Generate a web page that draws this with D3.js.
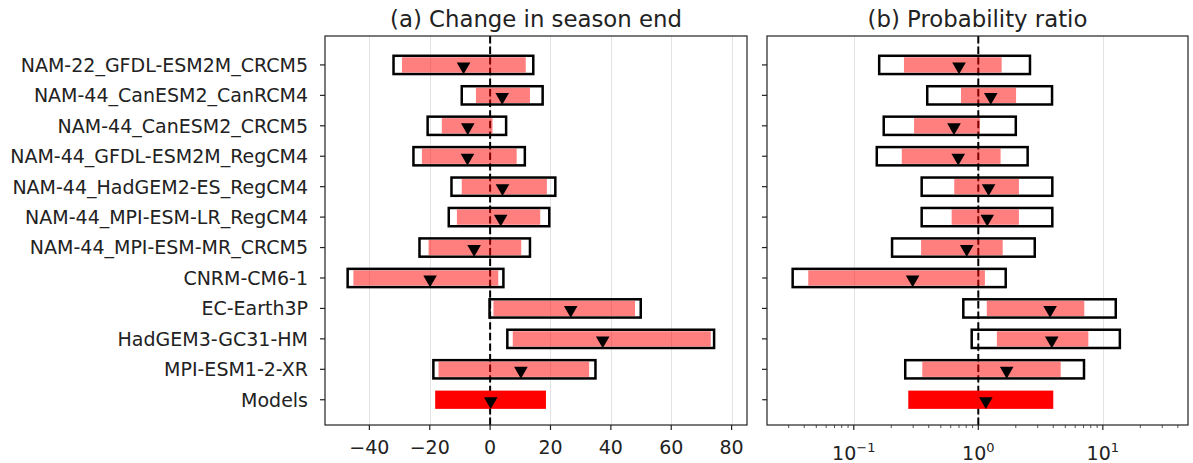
<!DOCTYPE html>
<html>
<head>
<meta charset="utf-8">
<script src="https://cdn.jsdelivr.net/npm/d3@7"></script>
<style>
	body { margin: 0; background: #fff; }
	svg { font-family: "DejaVu Sans", sans-serif; }
</style>
</head>
<body>
<svg width="1193" height="463"></svg>
<script>
(function() {
	"use strict"

	var models = ["NAM-22_GFDL-ESM2M_CRCM5", "NAM-44_CanESM2_CanRCM4", "NAM-44_CanESM2_CRCM5", "NAM-44_GFDL-ESM2M_RegCM4",
		"NAM-44_HadGEM2-ES_RegCM4", "NAM-44_MPI-ESM-LR_RegCM4", "NAM-44_MPI-ESM-MR_CRCM5", "CNRM-CM6-1",
		"EC-Earth3P", "HadGEM3-GC31-HM", "MPI-ESM1-2-XR", "Models"];

	// (a) change in season end
	var endBoxLo = [-32.0, -9.4, -20.7, -25.4, -12.8, -13.7, -23.4, -47.2, -0.2, 5.7, -18.8, null],
		endBoxHi = [14.3, 17.4, 5.3, 11.5, 21.6, 19.6, 13.2, 4.4, 49.9, 74.2, 34.9, null],
		endBarLo = [-29.2, -4.7, -16.0, -22.6, -9.4, -11.0, -20.4, -45.3, 1.1, 7.5, -17.1, -18.2],
		endBarHi = [11.8, 13.2, 0.8, 8.8, 18.8, 16.6, 10.3, 2.7, 48.0, 73.1, 32.8, 18.5],
		endBest = [-8.8, 4.0, -7.4, -7.5, 4.1, 3.5, -5.3, -19.9, 26.7, 37.3, 10.2, 0.2];

	// (b) probability ratio
	var prBoxLo = [0.160, 0.389, 0.174, 0.153, 0.351, 0.351, 0.203, 0.0323, 0.758, 0.885, 0.259, null],
		prBoxHi = [2.60, 3.91, 2.00, 2.49, 3.93, 3.93, 2.84, 1.66, 12.7, 13.7, 7.06, null],
		prBarLo = [0.253, 0.726, 0.305, 0.243, 0.641, 0.611, 0.347, 0.0431, 1.17, 1.41, 0.355, 0.274],
		prBarHi = [1.54, 2.01, 1.03, 1.51, 2.12, 2.12, 1.57, 1.13, 7.10, 7.65, 4.59, 4.00],
		prBest = [0.70, 1.26, 0.638, 0.69, 1.21, 1.18, 0.807, 0.297, 3.77, 3.89, 1.69, 1.15];

	var endTicks = [-40, -20, 0, 20, 40, 60, 80],
		prTicks = [0.1, 1, 10],
		prTickExp = ["−1", "0", "1"];

	var svg = d3.select("svg"),
		top = 36,
		bottom = 425,
		barH = 0.6,
		fontSize = 19,
		y = d3.scaleLinear().domain([-0.95, 11.83]).range([top, bottom]),
		xEnd = d3.scaleLinear().domain([-54.7, 85.1]).range([325, 747]),
		xPr = d3.scaleLog().domain([0.0201, 48.3]).range([767, 1188]),
		tri = d3.symbol().type(d3.symbolTriangle).size(80);

	function rows(lo, hi, barLo, barHi, best) {
		return models.map(function(m, i) {
			return { name : m, i : i, boxLo : lo[i], boxHi : hi[i], barLo : barLo[i], barHi : barHi[i], best : best[i], summary : lo[i] === null };
		});
	}

	function panel(x, data, ref, title) {
		var g = svg.append("g"),
			x0 = x.range()[0],
			x1 = x.range()[1],
			h = y(barH) - y(0);

		// grid
		g.selectAll(".grid")
			.data(x === xPr ? prTicks : endTicks)
			.enter()
			.append("line")
				.attr("x1", function(d) { return Math.round(x(d)) + 0.5; })
				.attr("x2", function(d) { return Math.round(x(d)) + 0.5; })
				.attr("y1", top)
				.attr("y2", bottom)
				.style("stroke", "#e3e3e3")
				.style("stroke-width", 1);

		// reference line
		g.append("line")
			.attr("x1", x(ref))
			.attr("x2", x(ref))
			.attr("y1", top)
			.attr("y2", bottom)
			.style("stroke", "#000")
			.style("stroke-width", 2)
			.style("stroke-dasharray", "7.4,3.2");

		// outer boxes
		g.selectAll(".box")
			.data(data.filter(function(d) { return !d.summary; }))
			.enter()
			.append("rect")
				.attr("x", function(d) { return x(d.boxLo); })
				.attr("y", function(d) { return y(d.i) - h / 2; })
				.attr("width", function(d) { return x(d.boxHi) - x(d.boxLo); })
				.attr("height", h)
				.style("fill", "none")
				.style("stroke", "#000")
				.style("stroke-width", 2.5);

		// red bars
		g.selectAll(".bar")
			.data(data)
			.enter()
			.append("rect")
				.attr("x", function(d) { return x(d.barLo); })
				.attr("y", function(d) { return y(d.i) - h / 2 + (d.summary ? 0 : 1.5); })
				.attr("width", function(d) { return x(d.barHi) - x(d.barLo); })
				.attr("height", function(d) { return d.summary ? h : h - 3; })
				.style("fill", "#ff0000")
				.style("fill-opacity", function(d) { return d.summary ? 1 : 0.5; });

		// best estimates
		g.selectAll(".best")
			.data(data)
			.enter()
			.append("path")
				.attr("d", tri)
				.attr("transform", function(d) { return "translate(" + x(d.best) + "," + (y(d.i) + 1.5) + ") rotate(180)"; })
				.style("fill", "#000");

		// frame
		g.append("rect")
			.attr("x", x0)
			.attr("y", top)
			.attr("width", x1 - x0)
			.attr("height", bottom - top)
			.style("fill", "none")
			.style("stroke", "#222")
			.style("stroke-width", 1.2);

		// y ticks
		g.selectAll(".ytick")
			.data(models)
			.enter()
			.append("line")
				.attr("x1", x0 - 5)
				.attr("x2", x0)
				.attr("y1", function(d, i) { return y(i); })
				.attr("y2", function(d, i) { return y(i); })
				.style("stroke", "#222")
				.style("stroke-width", 1.2);

		g.append("text")
			.attr("x", (x0 + x1) / 2)
			.attr("y", 27)
			.attr("text-anchor", "middle")
			.style("font-size", (fontSize * 1.2) + "px")
			.style("fill", "#222")
			.text(title);

		return g;
	}

	var left = panel(xEnd, rows(endBoxLo, endBoxHi, endBarLo, endBarHi, endBest), 0, "(a) Change in season end"),
		right = panel(xPr, rows(prBoxLo, prBoxHi, prBarLo, prBarHi, prBest), 1, "(b) Probability ratio");

	// category labels
	left.selectAll(".ylab")
		.data(models)
		.enter()
		.append("text")
			.attr("x", 308)
			.attr("y", function(d, i) { return y(i); })
			.attr("dy", "0.36em")
			.attr("text-anchor", "end")
			.style("font-size", fontSize + "px")
			.style("fill", "#222")
			.text(function(d) { return d; });

	// x axis (a)
	left.selectAll(".xtick")
		.data(endTicks)
		.enter()
		.append("line")
			.attr("x1", function(d) { return xEnd(d); })
			.attr("x2", function(d) { return xEnd(d); })
			.attr("y1", bottom)
			.attr("y2", bottom + 5)
			.style("stroke", "#222")
			.style("stroke-width", 1.2);

	left.selectAll(".xlab")
		.data(endTicks)
		.enter()
		.append("text")
			.attr("x", function(d) { return xEnd(d); })
			.attr("y", 454)
			.attr("text-anchor", "middle")
			.style("font-size", fontSize + "px")
			.style("fill", "#222")
			.text(function(d) { return d < 0 ? "−" + Math.abs(d) : d; });

	// x axis (b), log with minor ticks
	var minor = [],
		k, m;
	for (k = -2; k <= 1; ++k) {
		for (m = 2; m <= 9; ++m) {
			var v = m * Math.pow(10, k);
			if (v >= xPr.domain()[0] && v <= xPr.domain()[1]) {
				minor.push(v);
			}
		}
	}

	right.selectAll(".minor")
		.data(minor)
		.enter()
		.append("line")
			.attr("x1", function(d) { return xPr(d); })
			.attr("x2", function(d) { return xPr(d); })
			.attr("y1", bottom)
			.attr("y2", bottom + 3)
			.style("stroke", "#222")
			.style("stroke-width", 0.8);

	right.selectAll(".xtick")
		.data(prTicks)
		.enter()
		.append("line")
			.attr("x1", function(d) { return xPr(d); })
			.attr("x2", function(d) { return xPr(d); })
			.attr("y1", bottom)
			.attr("y2", bottom + 5)
			.style("stroke", "#222")
			.style("stroke-width", 1.2);

	var lab = right.selectAll(".xlab")
		.data(prTicks)
		.enter()
		.append("text")
			.attr("x", function(d) { return xPr(d); })
			.attr("y", 460)
			.attr("text-anchor", "middle")
			.style("font-size", fontSize + "px")
			.style("fill", "#222");

	lab.append("tspan")
		.text("10");
	lab.append("tspan")
		.attr("dy", -8)
		.style("font-size", "13px")
		.text(function(d, i) { return prTickExp[i]; });
})();
</script>
</body>
</html>
